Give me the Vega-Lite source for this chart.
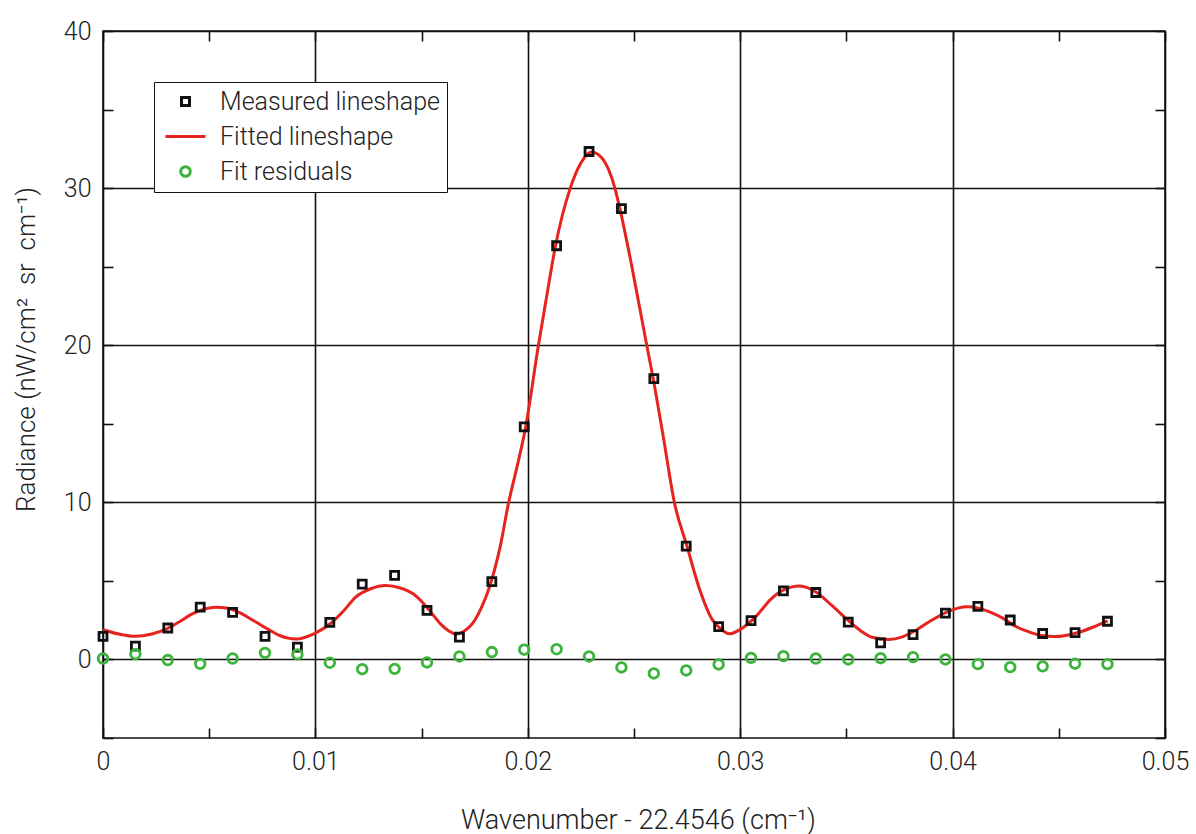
{
  "$schema": "https://vega.github.io/schema/vega-lite/v6.json",
  "width": 1062,
  "height": 707,
  "autosize": {"type": "none"},
  "padding": {"left": 103, "top": 31, "right": 31, "bottom": 96},
  "background": "white",
  "config": {
    "view": {"stroke": "#111111", "strokeWidth": 1.6},
    "font": "Roboto",
    "axis": {
      "labelFont": "Roboto",
      "labelFontWeight": 300,
      "labelFontSize": 25,
      "labelColor": "#222222",
      "titleFont": "Roboto",
      "titleFontWeight": 300,
      "titleFontSize": 26,
      "titleColor": "#222222",
      "domain": false,
      "tickColor": "#111111",
      "tickWidth": 1.6,
      "tickSize": -10,
      "gridColor": "#111111",
      "gridWidth": 1.6,
      "labelFlush": false,
      "labelOverlap": false
    },
    "legend": {
      "orient": "none",
      "legendX": 51,
      "legendY": 51,
      "fillColor": "white",
      "strokeColor": "#111111",
      "padding": 7,
      "labelFont": "Roboto",
      "labelFontWeight": 300,
      "labelFontSize": 25,
      "labelColor": "#222222",
      "labelLimit": 500,
      "symbolSize": 64,
      "symbolStrokeWidth": 3,
      "rowPadding": 9,
      "symbolOffset": 12,
      "labelOffset": 22
    }
  },
  "datasets": {
    "points": [
      {"series": "Measured lineshape", "wavenumber": 0.0, "radiance": 1.47},
      {"series": "Measured lineshape", "wavenumber": 0.001526, "radiance": 0.85},
      {"series": "Measured lineshape", "wavenumber": 0.003051, "radiance": 2.0},
      {"series": "Measured lineshape", "wavenumber": 0.004577, "radiance": 3.33},
      {"series": "Measured lineshape", "wavenumber": 0.006102, "radiance": 3.0},
      {"series": "Measured lineshape", "wavenumber": 0.007628, "radiance": 1.47},
      {"series": "Measured lineshape", "wavenumber": 0.009153, "radiance": 0.79},
      {"series": "Measured lineshape", "wavenumber": 0.010679, "radiance": 2.36},
      {"series": "Measured lineshape", "wavenumber": 0.012204, "radiance": 4.8},
      {"series": "Measured lineshape", "wavenumber": 0.01373, "radiance": 5.35},
      {"series": "Measured lineshape", "wavenumber": 0.015255, "radiance": 3.12},
      {"series": "Measured lineshape", "wavenumber": 0.016781, "radiance": 1.42},
      {"series": "Measured lineshape", "wavenumber": 0.018306, "radiance": 4.95},
      {"series": "Measured lineshape", "wavenumber": 0.019832, "radiance": 14.8},
      {"series": "Measured lineshape", "wavenumber": 0.021357, "radiance": 26.33},
      {"series": "Measured lineshape", "wavenumber": 0.022883, "radiance": 32.33},
      {"series": "Measured lineshape", "wavenumber": 0.024408, "radiance": 28.7},
      {"series": "Measured lineshape", "wavenumber": 0.025934, "radiance": 17.87},
      {"series": "Measured lineshape", "wavenumber": 0.027459, "radiance": 7.21},
      {"series": "Measured lineshape", "wavenumber": 0.028985, "radiance": 2.09},
      {"series": "Measured lineshape", "wavenumber": 0.03051, "radiance": 2.47},
      {"series": "Measured lineshape", "wavenumber": 0.032036, "radiance": 4.37},
      {"series": "Measured lineshape", "wavenumber": 0.033561, "radiance": 4.26},
      {"series": "Measured lineshape", "wavenumber": 0.035087, "radiance": 2.38},
      {"series": "Measured lineshape", "wavenumber": 0.036612, "radiance": 1.05},
      {"series": "Measured lineshape", "wavenumber": 0.038138, "radiance": 1.58},
      {"series": "Measured lineshape", "wavenumber": 0.039663, "radiance": 2.95},
      {"series": "Measured lineshape", "wavenumber": 0.041189, "radiance": 3.38},
      {"series": "Measured lineshape", "wavenumber": 0.042714, "radiance": 2.51},
      {"series": "Measured lineshape", "wavenumber": 0.04424, "radiance": 1.65},
      {"series": "Measured lineshape", "wavenumber": 0.045765, "radiance": 1.71},
      {"series": "Measured lineshape", "wavenumber": 0.047291, "radiance": 2.43},
      {"series": "Fit residuals", "wavenumber": 0.0, "radiance": 0.06},
      {"series": "Fit residuals", "wavenumber": 0.001526, "radiance": 0.34},
      {"series": "Fit residuals", "wavenumber": 0.003051, "radiance": -0.04},
      {"series": "Fit residuals", "wavenumber": 0.004577, "radiance": -0.28},
      {"series": "Fit residuals", "wavenumber": 0.006102, "radiance": 0.06},
      {"series": "Fit residuals", "wavenumber": 0.007628, "radiance": 0.42},
      {"series": "Fit residuals", "wavenumber": 0.009153, "radiance": 0.32},
      {"series": "Fit residuals", "wavenumber": 0.010679, "radiance": -0.21},
      {"series": "Fit residuals", "wavenumber": 0.012204, "radiance": -0.62},
      {"series": "Fit residuals", "wavenumber": 0.01373, "radiance": -0.6},
      {"series": "Fit residuals", "wavenumber": 0.015255, "radiance": -0.19},
      {"series": "Fit residuals", "wavenumber": 0.016781, "radiance": 0.19},
      {"series": "Fit residuals", "wavenumber": 0.018306, "radiance": 0.47},
      {"series": "Fit residuals", "wavenumber": 0.019832, "radiance": 0.62},
      {"series": "Fit residuals", "wavenumber": 0.021357, "radiance": 0.65},
      {"series": "Fit residuals", "wavenumber": 0.022883, "radiance": 0.19},
      {"series": "Fit residuals", "wavenumber": 0.024408, "radiance": -0.51},
      {"series": "Fit residuals", "wavenumber": 0.025934, "radiance": -0.89},
      {"series": "Fit residuals", "wavenumber": 0.027459, "radiance": -0.7},
      {"series": "Fit residuals", "wavenumber": 0.028985, "radiance": -0.32},
      {"series": "Fit residuals", "wavenumber": 0.03051, "radiance": 0.1},
      {"series": "Fit residuals", "wavenumber": 0.032036, "radiance": 0.21},
      {"series": "Fit residuals", "wavenumber": 0.033561, "radiance": 0.06},
      {"series": "Fit residuals", "wavenumber": 0.035087, "radiance": 0.0},
      {"series": "Fit residuals", "wavenumber": 0.036612, "radiance": 0.08},
      {"series": "Fit residuals", "wavenumber": 0.038138, "radiance": 0.15},
      {"series": "Fit residuals", "wavenumber": 0.039663, "radiance": 0.0},
      {"series": "Fit residuals", "wavenumber": 0.041189, "radiance": -0.3},
      {"series": "Fit residuals", "wavenumber": 0.042714, "radiance": -0.49},
      {"series": "Fit residuals", "wavenumber": 0.04424, "radiance": -0.44},
      {"series": "Fit residuals", "wavenumber": 0.045765, "radiance": -0.27},
      {"series": "Fit residuals", "wavenumber": 0.047291, "radiance": -0.3}
    ],
    "fit": [
      {"series": "Fitted lineshape", "wavenumber": 0.0, "radiance": 1.89},
      {"series": "Fitted lineshape", "wavenumber": 0.0008, "radiance": 1.6},
      {"series": "Fitted lineshape", "wavenumber": 0.0015, "radiance": 1.47},
      {"series": "Fitted lineshape", "wavenumber": 0.0023, "radiance": 1.62},
      {"series": "Fitted lineshape", "wavenumber": 0.003, "radiance": 1.95},
      {"series": "Fitted lineshape", "wavenumber": 0.0036, "radiance": 2.4},
      {"series": "Fitted lineshape", "wavenumber": 0.0042, "radiance": 2.9},
      {"series": "Fitted lineshape", "wavenumber": 0.0048, "radiance": 3.22},
      {"series": "Fitted lineshape", "wavenumber": 0.0053, "radiance": 3.33},
      {"series": "Fitted lineshape", "wavenumber": 0.0058, "radiance": 3.28},
      {"series": "Fitted lineshape", "wavenumber": 0.0064, "radiance": 3.0},
      {"series": "Fitted lineshape", "wavenumber": 0.0072, "radiance": 2.38},
      {"series": "Fitted lineshape", "wavenumber": 0.0078, "radiance": 1.9},
      {"series": "Fitted lineshape", "wavenumber": 0.0083, "radiance": 1.53},
      {"series": "Fitted lineshape", "wavenumber": 0.0091, "radiance": 1.3},
      {"series": "Fitted lineshape", "wavenumber": 0.01, "radiance": 1.68},
      {"series": "Fitted lineshape", "wavenumber": 0.0107, "radiance": 2.27},
      {"series": "Fitted lineshape", "wavenumber": 0.0113, "radiance": 3.05},
      {"series": "Fitted lineshape", "wavenumber": 0.0119, "radiance": 3.97},
      {"series": "Fitted lineshape", "wavenumber": 0.0126, "radiance": 4.5},
      {"series": "Fitted lineshape", "wavenumber": 0.0133, "radiance": 4.71},
      {"series": "Fitted lineshape", "wavenumber": 0.014, "radiance": 4.55},
      {"series": "Fitted lineshape", "wavenumber": 0.0146, "radiance": 4.18},
      {"series": "Fitted lineshape", "wavenumber": 0.0151, "radiance": 3.55},
      {"series": "Fitted lineshape", "wavenumber": 0.0155, "radiance": 2.9},
      {"series": "Fitted lineshape", "wavenumber": 0.0159, "radiance": 2.25},
      {"series": "Fitted lineshape", "wavenumber": 0.0163, "radiance": 1.8},
      {"series": "Fitted lineshape", "wavenumber": 0.0166, "radiance": 1.61},
      {"series": "Fitted lineshape", "wavenumber": 0.017, "radiance": 1.8},
      {"series": "Fitted lineshape", "wavenumber": 0.0174, "radiance": 2.29},
      {"series": "Fitted lineshape", "wavenumber": 0.0178, "radiance": 3.25},
      {"series": "Fitted lineshape", "wavenumber": 0.0182, "radiance": 4.63},
      {"series": "Fitted lineshape", "wavenumber": 0.0187, "radiance": 7.18},
      {"series": "Fitted lineshape", "wavenumber": 0.0191, "radiance": 10.0},
      {"series": "Fitted lineshape", "wavenumber": 0.0195, "radiance": 12.3},
      {"series": "Fitted lineshape", "wavenumber": 0.0199, "radiance": 14.8},
      {"series": "Fitted lineshape", "wavenumber": 0.0205, "radiance": 20.0},
      {"series": "Fitted lineshape", "wavenumber": 0.0209, "radiance": 23.2},
      {"series": "Fitted lineshape", "wavenumber": 0.0213, "radiance": 26.3},
      {"series": "Fitted lineshape", "wavenumber": 0.022, "radiance": 30.0},
      {"series": "Fitted lineshape", "wavenumber": 0.0225, "radiance": 31.6},
      {"series": "Fitted lineshape", "wavenumber": 0.023, "radiance": 32.3},
      {"series": "Fitted lineshape", "wavenumber": 0.0235, "radiance": 31.9},
      {"series": "Fitted lineshape", "wavenumber": 0.0241, "radiance": 30.0},
      {"series": "Fitted lineshape", "wavenumber": 0.0243, "radiance": 28.9},
      {"series": "Fitted lineshape", "wavenumber": 0.0249, "radiance": 25.0},
      {"series": "Fitted lineshape", "wavenumber": 0.0256, "radiance": 20.0},
      {"series": "Fitted lineshape", "wavenumber": 0.0259, "radiance": 17.9},
      {"series": "Fitted lineshape", "wavenumber": 0.0264, "radiance": 14.0},
      {"series": "Fitted lineshape", "wavenumber": 0.0269, "radiance": 10.0},
      {"series": "Fitted lineshape", "wavenumber": 0.0275, "radiance": 7.18},
      {"series": "Fitted lineshape", "wavenumber": 0.0281, "radiance": 4.42},
      {"series": "Fitted lineshape", "wavenumber": 0.0287, "radiance": 2.5},
      {"series": "Fitted lineshape", "wavenumber": 0.029, "radiance": 2.05},
      {"series": "Fitted lineshape", "wavenumber": 0.0295, "radiance": 1.63},
      {"series": "Fitted lineshape", "wavenumber": 0.03, "radiance": 1.91},
      {"series": "Fitted lineshape", "wavenumber": 0.0308, "radiance": 2.82},
      {"series": "Fitted lineshape", "wavenumber": 0.0314, "radiance": 3.78},
      {"series": "Fitted lineshape", "wavenumber": 0.032, "radiance": 4.4},
      {"series": "Fitted lineshape", "wavenumber": 0.0328, "radiance": 4.68},
      {"series": "Fitted lineshape", "wavenumber": 0.0336, "radiance": 4.26},
      {"series": "Fitted lineshape", "wavenumber": 0.0343, "radiance": 3.45},
      {"series": "Fitted lineshape", "wavenumber": 0.0351, "radiance": 2.47},
      {"series": "Fitted lineshape", "wavenumber": 0.0357, "radiance": 1.8},
      {"series": "Fitted lineshape", "wavenumber": 0.0362, "radiance": 1.41},
      {"series": "Fitted lineshape", "wavenumber": 0.037, "radiance": 1.27},
      {"series": "Fitted lineshape", "wavenumber": 0.0376, "radiance": 1.42},
      {"series": "Fitted lineshape", "wavenumber": 0.0381, "radiance": 1.73},
      {"series": "Fitted lineshape", "wavenumber": 0.0389, "radiance": 2.4},
      {"series": "Fitted lineshape", "wavenumber": 0.0397, "radiance": 3.0},
      {"series": "Fitted lineshape", "wavenumber": 0.0407, "radiance": 3.35},
      {"series": "Fitted lineshape", "wavenumber": 0.0418, "radiance": 3.0},
      {"series": "Fitted lineshape", "wavenumber": 0.0424, "radiance": 2.6},
      {"series": "Fitted lineshape", "wavenumber": 0.0429, "radiance": 2.15},
      {"series": "Fitted lineshape", "wavenumber": 0.0436, "radiance": 1.75},
      {"series": "Fitted lineshape", "wavenumber": 0.0442, "radiance": 1.52},
      {"series": "Fitted lineshape", "wavenumber": 0.0448, "radiance": 1.46},
      {"series": "Fitted lineshape", "wavenumber": 0.0458, "radiance": 1.67},
      {"series": "Fitted lineshape", "wavenumber": 0.0466, "radiance": 2.05},
      {"series": "Fitted lineshape", "wavenumber": 0.0473, "radiance": 2.45}
    ]
  },
  "layer": [
    {
      "data": {"name": "fit"},
      "mark": {"type": "line", "strokeWidth": 3, "interpolate": "monotone"},
      "encoding": {
        "x": {
          "field": "wavenumber",
          "type": "quantitative",
          "scale": {"domain": [0, 0.05], "nice": false, "zero": false},
          "axis": {
            "orient": "bottom",
            "values": [0, 0.005, 0.01, 0.015, 0.02, 0.025, 0.03, 0.035, 0.04, 0.045, 0.05],
            "format": ".2~f",
            "labelExpr": "round(datum.value * 200) % 2 == 0 ? datum.label : ''",
            "labelPadding": 21,
            "grid": true,
            "gridOpacity": {"condition": {"test": "round(datum.value * 200) % 2 == 0", "value": 1}, "value": 0},
            "title": "Wavenumber\u00a0-\u00a022.4546\u00a0(cm⁻¹)",
            "titleFontSize": 27,
            "titleX": 535,
            "titleY": 90,
            "titleAlign": "center",
            "titleBaseline": "alphabetic"
          }
        },
        "y": {
          "field": "radiance",
          "type": "quantitative",
          "scale": {"domain": [-5, 40], "nice": false, "zero": false},
          "axis": {
            "orient": "left",
            "values": [-5, 0, 5, 10, 15, 20, 25, 30, 35, 40],
            "labelExpr": "datum.value % 10 == 0 ? datum.label : ''",
            "labelPadding": 22,
            "grid": true,
            "gridOpacity": {"condition": {"test": "datum.value % 10 == 0", "value": 1}, "value": 0},
            "title": "Radiance (nW/cm²\u00a0\u00a0sr\u00a0\u00a0cm⁻¹)",
            "titleX": -69,
            "titleY": 318,
            "titleAngle": 270,
            "titleAlign": "center",
            "titleBaseline": "alphabetic"
          }
        },
        "stroke": {
          "field": "series",
          "type": "nominal",
          "scale": {
            "domain": ["Measured lineshape", "Fitted lineshape", "Fit residuals"],
            "range": ["#111111", "#e6231f", "#3bb43b"]
          },
          "legend": {"title": null}
        }
      }
    },
    {
      "data": {"name": "points"},
      "mark": {"type": "point", "filled": false, "size": 64, "strokeWidth": 2.8, "opacity": 1},
      "encoding": {
        "x": {
          "field": "wavenumber",
          "type": "quantitative",
          "axis": {
            "orient": "top",
            "values": [0, 0.005, 0.01, 0.015, 0.02, 0.025, 0.03, 0.035, 0.04, 0.045, 0.05],
            "labels": false,
            "grid": false,
            "title": null
          }
        },
        "y": {
          "field": "radiance",
          "type": "quantitative",
          "axis": {
            "orient": "right",
            "values": [-5, 0, 5, 10, 15, 20, 25, 30, 35, 40],
            "labels": false,
            "grid": false,
            "title": null
          }
        },
        "stroke": {"field": "series", "type": "nominal", "legend": {"title": null}},
        "shape": {
          "field": "series",
          "type": "nominal",
          "scale": {
            "domain": ["Measured lineshape", "Fitted lineshape", "Fit residuals"],
            "range": [
              "M-1,-1H1V1H-1Z",
              "M-5,0H5",
              "M-1.2,0C-1.2,-0.66,-0.66,-1.2,0,-1.2C0.66,-1.2,1.2,-0.66,1.2,0C1.2,0.66,0.66,1.2,0,1.2C-0.66,1.2,-1.2,0.66,-1.2,0Z"
            ]
          },
          "legend": {"title": null}
        }
      }
    }
  ],
  "resolve": {"axis": {"x": "independent", "y": "independent"}}
}
